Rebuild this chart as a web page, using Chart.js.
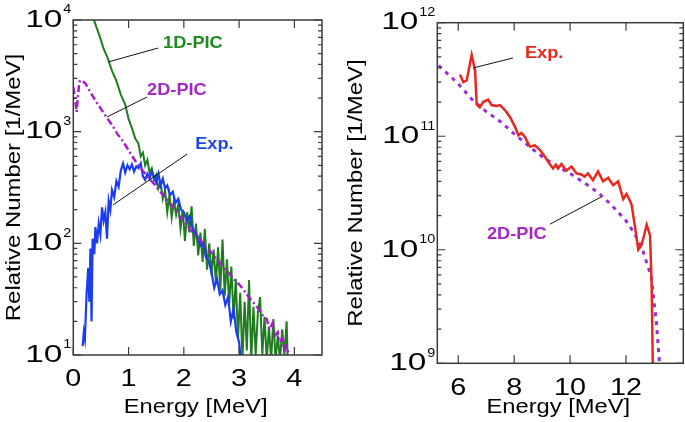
<!DOCTYPE html>
<html><head><meta charset="utf-8">
<script src="https://cdn.jsdelivr.net/npm/chart.js@4/dist/chart.umd.min.js"></script>
<style>
html,body{margin:0;padding:0;background:#fff;width:685px;height:422px;overflow:hidden}
canvas{position:absolute;top:0}
#c1{left:0}#c2{left:342px}
</style></head>
<body>
<canvas id="c1" width="342" height="422"></canvas>
<canvas id="c2" width="343" height="422"></canvas>
<script>
// ---------- Left panel data ----------
const leftXTicks = [0, 1, 2, 3, 4];
const leftYDecades = [1, 2, 3, 4];

const pic1dE = [0.36,0.42,0.48,0.55,0.62,0.70,0.78,0.86,0.94,1.00,1.06,1.12,1.18,1.22,1.26,1.30,1.34,1.38,1.42,1.46,1.50,1.54,1.58,1.62,1.66,1.70,1.74,1.78,1.82,1.86,1.90,1.94,1.98,2.02,2.06,2.10,2.14,2.18,2.22,2.26,2.30,2.34,2.38,2.42,2.46,2.50,2.54,2.58,2.62,2.66,2.70,2.74,2.78,2.82,2.86,2.90,2.94,2.98,3.02,3.06,3.10,3.14,3.18,3.22,3.26,3.30,3.34,3.38,3.42,3.46,3.50,3.54,3.58,3.62,3.66,3.70,3.74,3.78,3.82,3.86,3.88];
const pic1dN = [10500,8600,7100,5500,4600,3500,2850,2150,1750,1300,1080,870,780,600,650,500,560,430,470,370,410,310,350,250,300,190,270,170,240,180,225,135,200,105,190,125,215,95,150,78,125,68,135,58,100,52,88,44,92,38,108,34,72,28,62,21,48,14,36,9,30,11,47,9,27,10,24,33,10,22,9,18,9,21,9,15,9,17,10,20,9];

const expLE = [0.17,0.19,0.21,0.24,0.27,0.29,0.31,0.33,0.35,0.38,0.40,0.43,0.46,0.49,0.52,0.55,0.58,0.61,0.64,0.67,0.70,0.74,0.78,0.82,0.86,0.90,0.94,0.98,1.02,1.06,1.10,1.14,1.18,1.22,1.26,1.30,1.34,1.38,1.42,1.46,1.50,1.54,1.58,1.62,1.66,1.70,1.75,1.80,1.85,1.90,1.95,2.00,2.05,2.10,2.15,2.20,2.25,2.30,2.35,2.40,2.45,2.50,2.55,2.60,2.65,2.70,2.75,2.80,2.85,2.90,2.95,3.00,3.03];
const expLN = [12,16,14,35,60,30,90,20,110,80,140,100,150,120,210,160,190,110,240,200,300,260,360,320,450,520,430,500,460,510,440,490,470,520,400,370,420,380,440,400,350,420,330,380,310,330,270,290,230,250,200,190,160,175,140,125,115,95,100,75,70,55,40,48,35,38,28,33,20,26,16,13,9];

const pic2dLE = [0.00,0.03,0.06,0.08,0.11,0.15,0.22,0.30,0.40,0.50,0.60,0.70,0.80,0.90,1.00,1.15,1.30,1.45,1.60,1.75,1.90,2.05,2.20,2.30,2.40,2.48,2.56,2.65,2.72,2.80,2.90,3.00,3.07,3.14,3.22,3.30,3.37,3.44,3.50,3.55,3.60,3.65,3.70,3.74,3.78,3.82,3.86,3.90];
const pic2dLN = [2500,2000,1500,2000,2800,2900,2700,2300,1900,1600,1350,1150,950,820,680,520,420,345,280,230,180,145,120,107,93,85,75,68,60,55,48,43,39,35,31,28,25,22,21,17,19,15,16,13,14,11,12,10];

// ---------- Right panel data ----------
const rightXTicks = [6, 8, 10, 12];
const rightYDecades = [9, 10, 11, 12];

const expRE = [6.06,6.18,6.30,6.48,6.60,6.66,6.77,6.89,7.07,7.19,7.37,7.49,7.67,7.85,8.03,8.15,8.26,8.38,8.56,8.74,8.92,9.10,9.27,9.39,9.49,9.57,9.69,9.87,10.05,10.23,10.40,10.52,10.64,10.82,11.00,11.18,11.36,11.54,11.72,11.90,12.02,12.14,12.20,12.32,12.44,12.56,12.74,12.86,12.92,12.96];
const expRN = [3.5e11,3.0e11,3.1e11,5.2e11,3.8e11,1.9e11,1.8e11,2.0e11,2.1e11,1.88e11,1.85e11,1.88e11,1.7e11,1.48e11,1.21e11,1.02e11,1.07e11,9.9e10,8.1e10,8.3e10,7.6e10,6.6e10,5.7e10,5.2e10,5.6e10,5.2e10,5.7e10,5.0e10,5.4e10,4.7e10,4.6e10,4.4e10,4.7e10,4.1e10,4.9e10,4.0e10,4.3e10,3.7e10,4.0e10,2.8e10,3.1e10,2.7e10,2.5e10,1.6e10,1.0e10,1.1e10,1.66e10,1.34e10,4.7e9,9e8];

const pic2dRE = [5.30,6.00,6.50,7.00,7.50,8.00,8.50,9.00,9.50,10.00,10.50,11.00,11.50,12.00,12.30,12.60,12.90,13.08,13.20];
const pic2dRN = [4.2e11,2.9e11,2.1e11,1.65e11,1.35e11,1.05e11,8.3e10,6.6e10,5.5e10,4.7e10,3.9e10,3.2e10,2.45e10,1.8e10,1.4e10,9.9e9,5.8e9,2.4e9,1e9];

// ---------- helpers ----------
const FONT = '"Liberation Sans", Arial, Helvetica, sans-serif';
const pts = (xs, ys) => xs.map((x, i) => ({x: x, y: ys[i]}));

function drawText(ctx, s, x, y, size, weight, color, sx, align, rot) {
  ctx.save();
  ctx.translate(x, y);
  if (rot) ctx.rotate(rot);
  ctx.scale(sx, 1);
  ctx.font = weight + ' ' + size + 'px ' + FONT;
  ctx.fillStyle = color;
  ctx.textAlign = align;
  ctx.textBaseline = 'alphabetic';
  ctx.fillText(s, 0, 0);
  ctx.restore();
}

function framePlugin(cfg) {
  return {
    id: 'frame',
    afterDraw(chart) {
      const ctx = chart.ctx, a = chart.chartArea;
      const xs = chart.scales.x, ys = chart.scales.y;
      ctx.save();
      // annotations leaders
      ctx.strokeStyle = '#111'; ctx.lineWidth = 1;
      cfg.notes.forEach(n => {
        ctx.beginPath();
        ctx.moveTo(xs.getPixelForValue(n.lead[0][0]), ys.getPixelForValue(n.lead[0][1]));
        ctx.lineTo(xs.getPixelForValue(n.lead[1][0]), ys.getPixelForValue(n.lead[1][1]));
        ctx.stroke();
        const px = xs.getPixelForValue(n.at[0]), py = ys.getPixelForValue(n.at[1]);
        drawText(ctx, n.text, px, py + 0.358 * 17, 17, 'bold', n.color, 1.07, 'left');
      });
      // frame
      ctx.strokeStyle = '#3a3a3a'; ctx.lineWidth = 1.5;
      ctx.strokeRect(a.left, a.top, a.right - a.left, a.bottom - a.top);
      ctx.lineWidth = 1.2;
      ctx.beginPath();
      cfg.xTicks.forEach(v => {
        const px = xs.getPixelForValue(v);
        ctx.moveTo(px, a.bottom); ctx.lineTo(px, a.bottom - 8);
        ctx.moveTo(px, a.top); ctx.lineTo(px, a.top + 8);
      });
      cfg.yDecades.forEach(d => {
        for (let m = 1; m <= 9; m++) {
          const val = m * Math.pow(10, d);
          if (val > ys.max * 1.0001 || val < ys.min * 0.9999) continue;
          const py = ys.getPixelForValue(val);
          const len = m === 1 ? 8 : 4;
          ctx.moveTo(a.left, py); ctx.lineTo(a.left + len, py);
          ctx.moveTo(a.right, py); ctx.lineTo(a.right - len, py);
        }
      });
      ctx.stroke();
      // x tick labels
      cfg.xTicks.forEach(v => {
        const px = xs.getPixelForValue(v);
        drawText(ctx, String(v), px, a.bottom + 23 + 0.358 * 23, 23, 'normal', '#000', 1.25, 'center');
      });
      // y tick labels 10^n
      cfg.yDecades.forEach(d => {
        const py = ys.getPixelForValue(Math.pow(10, d));
        ctx.font = '12px ' + FONT;
        const supW = ctx.measureText(String(d)).width * 1.2;
        const xr = a.left - 2;
        drawText(ctx, String(d), xr, py - 11 + 0.358 * 12, 12, 'normal', '#000', 1.2, 'right');
        drawText(ctx, '10', xr - supW - 1, py - 1.5 + 0.358 * 23, 23, 'normal', '#000', 1.45, 'right');
      });
      // titles
      drawText(ctx, 'Energy [MeV]', (a.left + a.right) / 2 - 2, 413, 21, 'normal', '#000', 1.13, 'center');
      drawText(ctx, 'Relative Number [1/MeV]', 20, (a.top + a.bottom) / 2, 21, 'normal', '#000', 1.14, 'center', -Math.PI / 2);
      ctx.restore();
    }
  };
}

function baseOptions(pad, xmin, xmax, ymin, ymax) {
  return {
    responsive: false, animation: false, devicePixelRatio: 1,
    layout: {padding: pad},
    plugins: {legend: {display: false}, tooltip: {enabled: false}},
    elements: {point: {radius: 0}, line: {tension: 0}},
    scales: {
      x: {type: 'linear', min: xmin, max: xmax, display: false},
      y: {type: 'logarithmic', min: ymin, max: ymax, display: false}
    }
  };
}

// ---------- Left chart ----------
new Chart(document.getElementById('c1'), {
  type: 'scatter',
  data: {datasets: [
    {label: '2D-PIC', data: pts(pic2dLE, pic2dLN), showLine: true, borderColor: '#a51fc6', borderWidth: 2.5, borderDash: [7, 3, 2, 3]},
    {label: 'Exp.', data: pts(expLE, expLN), showLine: true, borderColor: '#1c3cf0', borderWidth: 2.2},
    {label: '1D-PIC', data: pts(pic1dE, pic1dN), showLine: true, borderColor: '#1f7d1f', borderWidth: 2}
  ]},
  options: baseOptions({left: 73.3, right: 20, top: 20, bottom: 67}, 0, 4.5, 10, 1e4),
  plugins: [framePlugin({
    xTicks: leftXTicks, yDecades: leftYDecades,
    notes: [
      {text: '1D-PIC', color: '#1f8a1f', at: [1.625, 6350], lead: [[1.534, 5610], [0.629, 4210]]},
      {text: '2D-PIC', color: '#a626c8', at: [1.335, 2410], lead: [[1.335, 2045], [0.61, 1355]]},
      {text: 'Exp.', color: '#1f45e6', at: [2.205, 793], lead: [[2.06, 631], [0.72, 221]]}
    ]
  })]
});

// ---------- Right chart ----------
new Chart(document.getElementById('c2'), {
  type: 'scatter',
  data: {datasets: [
    {label: 'Exp.', data: pts(expRE, expRN), showLine: true, borderColor: '#e8281e', borderWidth: 2.5},
    {label: '2D-PIC', data: pts(pic2dRE, pic2dRN), showLine: true, borderColor: '#9a2fd6', borderWidth: 3, borderDash: [4, 5]}
  ]},
  options: baseOptions({left: 95.3, right: 1.7, top: 22.7, bottom: 58.7}, 5.25, 14.05, 1e9, 1e12),
  plugins: [framePlugin({
    xTicks: rightXTicks, yDecades: rightYDecades,
    notes: [
      {text: 'Exp.', color: '#e8281e', at: [8.386, 5.52e11], lead: [[7.957, 4.89e11], [6.526, 3.99e11]]},
      {text: '2D-PIC', color: '#a626c8', at: [7.026, 1.40e10], lead: [[9.28, 1.68e10], [11.103, 2.91e10]]}
    ]
  })]
});
</script>
</body></html>
